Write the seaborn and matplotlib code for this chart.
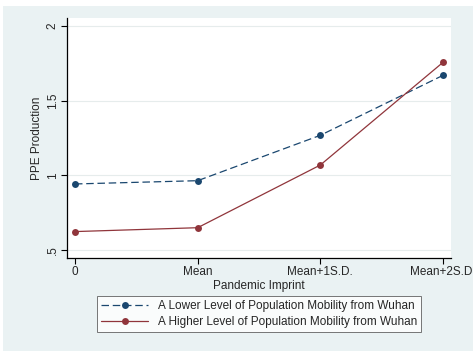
import matplotlib
matplotlib.use("Agg")
import matplotlib.pyplot as plt
import seaborn as sns
import pandas as pd
from matplotlib.patches import Rectangle
from matplotlib.lines import Line2D

categories = ["0", "Mean", "Mean+1S.D.", "Mean+2S.D."]
lower_mobility = [0.942, 0.964, 1.268, 1.670]
higher_mobility = [0.623, 0.649, 1.069, 1.757]
series_names = ["A Lower Level of Population Mobility from Wuhan",
                "A Higher Level of Population Mobility from Wuhan"]
y_ticks = [0.5, 1.0, 1.5, 2.0]
y_tick_labels = [".5", "1", "1.5", "2"]

sns.set_theme(style="white")
plt.rcParams["font.family"] = ["Liberation Sans", "DejaVu Sans"]

BG = "#eaf2f3"
BLUE = "#1a476f"
RED = "#90353b"

rows = []
for name, vals in zip(series_names, [lower_mobility, higher_mobility]):
    for i, v in enumerate(vals):
        rows.append({"pos": i, "value": v, "series": name})
df = pd.DataFrame(rows)

fig = plt.figure(figsize=(4.73, 3.51), dpi=100, facecolor="white")
bg = Rectangle((3 / 473, 0), 1, 1 - 6 / 351, transform=fig.transFigure,
               facecolor=BG, edgecolor="none", zorder=-10)
fig.add_artist(bg)
ax = fig.add_axes([67 / 473, 1 - 258 / 351, (451 - 67) / 473, (258 - 18) / 351])
ax.set_zorder(1)
ax.set_facecolor("white")

sns.lineplot(data=df, x="pos", y="value", hue="series", style="series",
             hue_order=series_names, style_order=series_names,
             palette=[BLUE, RED], dashes=[(6, 3), ""], markers=["o", "o"],
             markersize=5, markeredgewidth=0, linewidth=0.9, ax=ax, legend=False)

ax.set_xlim(-0.065, 3.065)
ax.set_ylim(0.446, 2.054)
ax.set_xticks(range(len(categories)))
ax.set_xticklabels(categories, fontsize=8.5)
ax.set_yticks(y_ticks)
ax.set_yticklabels(y_tick_labels, fontsize=8.5, rotation=90, va="center")
ax.yaxis.grid(True, color="#e6ecec", linewidth=0.8)
ax.set_axisbelow(True)
ax.set_xlabel("Pandemic Imprint", fontsize=8.5, labelpad=1)
ax.set_ylabel("PPE Production", fontsize=8.5, labelpad=3)
ax.tick_params(axis="both", which="both", length=4, width=0.8, color="black",
               direction="out", pad=2, bottom=True, left=True)
for s in ["top", "right"]:
    ax.spines[s].set_visible(False)
for s in ["left", "bottom"]:
    ax.spines[s].set_color("black")
    ax.spines[s].set_linewidth(0.9)

handles = [Line2D([], [], color=BLUE, linestyle=(0, (6, 3)), linewidth=0.9,
                  marker="o", markersize=5, markeredgewidth=0),
           Line2D([], [], color=RED, linestyle="-", linewidth=0.9,
                  marker="o", markersize=5, markeredgewidth=0)]
leg = fig.legend(handles, series_names, loc="upper center",
                 bbox_to_anchor=(259 / 473, 1 - 296 / 351), fontsize=8.5,
                 frameon=True, fancybox=False, edgecolor="#555555",
                 handlelength=4.0, handletextpad=0.8, borderpad=0.35,
                 labelspacing=0.3, borderaxespad=0)
leg.get_frame().set_linewidth(0.7)
leg.get_frame().set_facecolor("white")
leg.set_zorder(2)

fig.savefig("out.png", dpi=100, facecolor=fig.get_facecolor())
